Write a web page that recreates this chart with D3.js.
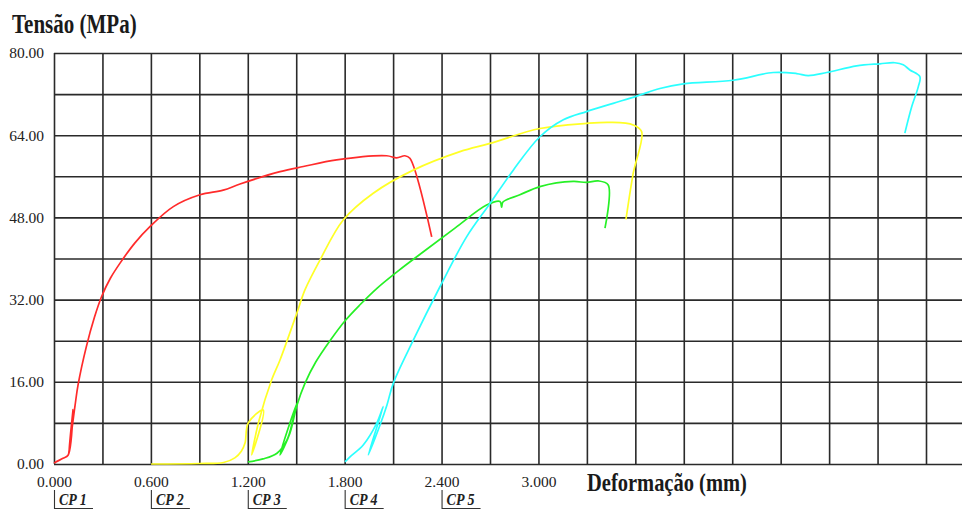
<!DOCTYPE html>
<html>
<head>
<meta charset="utf-8">
<script src="https://cdn.jsdelivr.net/npm/d3@7"></script>
<style>
  body { margin: 0; background: #fff; }
  svg { display: block; }
</style>
</head>
<body>
<svg id="chart"></svg>
<script>
// specimen labels and where each one starts on the deformation axis
let specimens = ["CP 1", "CP 2", "CP 3", "CP 4", "CP 5"]
let offsets = [0, 0.6, 1.2, 1.8, 2.4]

let xLabelTicks = [0, 0.6, 1.2, 1.8, 2.4, 3.0]
let xGridTicks = d3.range(0, 5.41, 0.3)
let yGridTicks = d3.range(0, 80.1, 8)
let yLabelTicks = [0, 16, 32, 48, 64, 80]

// [deformation mm, stress MPa]
let cp1 = [[0,0.2],[0.056,1.1],[0.087,1.7],[0.118,10.6],[0.09,1.9],[0.13,11.3],[0.149,15.4],[0.2,22.8],[0.25,28.5],[0.295,32.6],[0.35,36.2],[0.409,39.1],[0.5,43.0],[0.594,46.2],[0.739,50.1],[0.904,52.4],[1.048,53.3],[1.152,54.5],[1.4,56.9],[1.544,57.9],[1.75,59.2],[2.06,60.0],[2.122,59.6],[2.173,60.0],[2.204,59.5],[2.339,44.2]]
let cp2 = [[0.601,0],[0.9,0.1],[1.05,0.3],[1.12,1.2],[1.16,2.5],[1.183,4.1],[1.203,8.0],[1.296,10.5],[1.224,1.75],[1.27,8.5],[1.348,16.4],[1.399,20.2],[1.503,29.3],[1.554,33.9],[1.647,39.7],[1.791,47.5],[1.977,52.7],[2.225,57.2],[2.514,60.8],[2.7,62.4],[3.009,65.3],[3.298,66.3],[3.443,66.5],[3.587,66.0],[3.639,64.7],[3.587,56.6],[3.542,47.6]]
let cp3 = [[1.201,0.4],[1.294,1.0],[1.381,2.1],[1.443,4.7],[1.48,8.6],[1.505,11.9],[1.399,1.75],[1.461,6.0],[1.505,11.5],[1.554,15.7],[1.62,19.8],[1.709,24.0],[1.8,27.8],[1.895,31.0],[2.0,34.2],[2.132,37.6],[2.3,41.6],[2.483,45.9],[2.679,50.4],[2.762,51.1],[2.772,50.0],[2.78,51.0],[2.885,52.4],[3.009,54.0],[3.216,55.0],[3.298,54.8],[3.37,55.1],[3.432,54.3],[3.412,45.9]]
let cp4 = [[1.802,0.4],[1.833,1.4],[1.915,3.7],[1.998,7.9],[2.039,11.2],[1.946,1.75],[2.019,7.6],[2.062,11.5],[2.101,15.7],[2.225,24.1],[2.39,34.5],[2.555,44.2],[2.7,50.7],[2.844,57.2],[3.009,63.7],[3.154,67.0],[3.298,68.6],[3.463,70.2],[3.608,71.6],[3.752,73.1],[3.897,74.0],[4.206,74.7],[4.454,76.2],[4.599,76.0],[4.671,75.6],[4.785,76.2],[4.97,77.5],[5.115,77.9],[5.207,78.1],[5.259,77.7],[5.3,76.7],[5.362,75.4],[5.352,73.4],[5.311,69.5],[5.269,64.4]]

let series = [cp1, cp2, cp3, cp4]
let colors = ["#ff2b2b", "#ffff26", "#26f026", "#2bffff"]

let width = 962
let height = 510
let margins = {top: 53, left: 54, bottom: 46, right: 36}

let svg = d3.select('#chart')
    .attr('width', width)
    .attr('height', height)

let x = d3.scaleLinear().domain([0, 5.4]).range([margins.left, width - margins.right])
let y = d3.scaleLinear().domain([0, 80]).range([height - margins.bottom, margins.top])

// VERTICAL GRID
svg.append('g')
    .attr('transform', `translate(0, ${y(0)})`)
    .call(d3.axisBottom(x).tickValues(xGridTicks).tickSize(-(y(0) - y(80))).tickFormat(''))
    .call(g => g.select('.domain').remove())
    .selectAll('line')
    .attr('stroke', '#2a2a2a')
    .attr('stroke-width', 1.6)

// HORIZONTAL GRID (runs off to the right edge)
svg.append('g')
    .attr('transform', `translate(${x(0)}, 0)`)
    .call(d3.axisLeft(y).tickValues(yGridTicks).tickSize(-(width - x(0))).tickFormat(''))
    .call(g => g.select('.domain').remove())
    .selectAll('line')
    .attr('stroke', '#2a2a2a')
    .attr('stroke-width', 1.6)

// Y TICK LABELS
svg.append('g')
    .attr('transform', `translate(${x(0) - 7}, 0)`)
    .call(d3.axisLeft(y).tickValues(yLabelTicks).tickSize(0).tickFormat(d3.format('.2f')))
    .call(g => g.select('.domain').remove())
    .selectAll('text')
    .attr('font-family', '"Liberation Serif", "Times New Roman", serif')
    .attr('font-size', 15.5)
    .attr('fill', '#222')

// X TICK LABELS
svg.append('g')
    .attr('transform', `translate(0, ${y(0) + 9})`)
    .call(d3.axisBottom(x).tickValues(xLabelTicks).tickSize(0).tickFormat(d3.format('.3f')))
    .call(g => g.select('.domain').remove())
    .selectAll('text')
    .attr('font-family', '"Liberation Serif", "Times New Roman", serif')
    .attr('font-size', 15.5)
    .attr('fill', '#222')

// CURVES
let line = d3.line()
    .x(d => x(d[0]))
    .y(d => y(d[1]))
    .curve(d3.curveCatmullRom.alpha(0.5))

svg.append('g')
    .selectAll('path')
    .data(series)
    .enter()
    .append('path')
    .attr('d', line)
    .attr('fill', 'none')
    .attr('stroke', (d, i) => colors[i])
    .attr('stroke-width', 1.7)
    .attr('stroke-linejoin', 'round')

// SPECIMEN MARKERS
let marks = svg.append('g')
    .selectAll('g')
    .data(specimens)
    .enter()
    .append('g')
    .attr('transform', (d, i) => `translate(${x(offsets[i])}, 0)`)

marks.append('path')
    .attr('d', 'M0.5,490 V508.5 H39')
    .attr('fill', 'none')
    .attr('stroke', '#333')
    .attr('stroke-width', 1.1)

marks.append('text')
    .attr('transform', 'translate(5, 505) scale(1, 1.15)')
    .attr('font-family', '"Liberation Serif", "Times New Roman", serif')
    .attr('font-style', 'italic')
    .attr('font-weight', 'bold')
    .attr('font-size', 14)
    .attr('fill', '#222')
    .text(d => d)

// AXIS TITLES
svg.append('text')
    .attr('transform', 'translate(12, 33) scale(1, 1.27)')
    .attr('font-family', '"Liberation Serif", "Times New Roman", serif')
    .attr('font-weight', 'bold')
    .attr('font-size', 21)
    .attr('fill', '#1a1a1a')
    .text('Tensão (MPa)')

svg.append('text')
    .attr('transform', 'translate(587, 490.5) scale(1, 1.27)')
    .attr('font-family', '"Liberation Serif", "Times New Roman", serif')
    .attr('font-weight', 'bold')
    .attr('font-size', 20.5)
    .attr('fill', '#1a1a1a')
    .text('Deformação (mm)')
</script>
</body>
</html>
